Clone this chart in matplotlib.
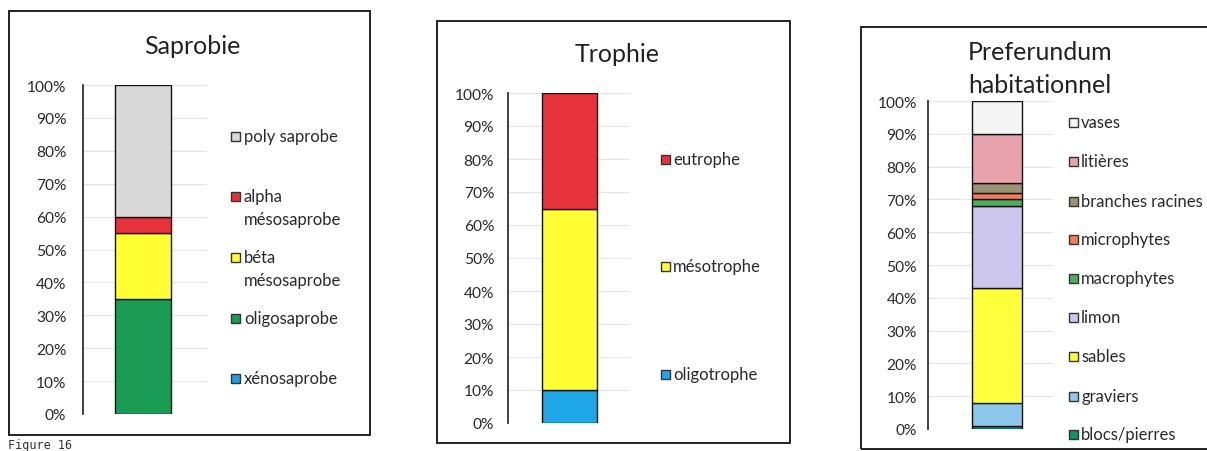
import matplotlib
matplotlib.use("Agg")
import matplotlib.pyplot as plt
from matplotlib.patches import Rectangle

plt.rcParams["font.family"] = ["Lato", "DejaVu Sans"]

W, H = 1207, 452

# stacked fractions, bottom to top
sap_labels = ["xénosaprobe", "oligosaprobe", "béta\nmésosaprobe", "alpha\nmésosaprobe", "poly saprobe"]
sap_values = [0.00, 0.35, 0.20, 0.05, 0.40]
sap_colors = ["#1e9fe0", "#1a9c55", "#ffff33", "#e8323c", "#d9d9d9"]

tro_labels = ["oligotrophe", "mésotrophe", "eutrophe"]
tro_values = [0.10, 0.55, 0.35]
tro_colors = ["#1ea6e6", "#ffff33", "#e8323c"]

hab_labels = ["blocs/pierres", "graviers", "sables", "limon", "macrophytes",
              "microphytes", "branches racines", "litières", "vases"]
hab_values = [0.01, 0.07, 0.35, 0.25, 0.02, 0.02, 0.03, 0.15, 0.10]
hab_colors = ["#16906a", "#8ec8ec", "#ffff3c", "#cdc6ec", "#4caf5e",
              "#f07c5c", "#9a9272", "#e8a2ae", "#f4f4f4"]

yticks = [i / 10 for i in range(11)]
ytick_labels = [f"{i * 10}%" for i in range(11)]


def fx(x):
    return x / W


def fy(y):
    return 1 - y / H


fig = plt.figure(figsize=(W / 100, H / 100), dpi=100)


def frame(x0, y0, x1, y1):
    fig.add_artist(Rectangle((fx(x0), fy(y1)), fx(x1) - fx(x0), fy(y0) - fy(y1),
                             transform=fig.transFigure, fill=False,
                             edgecolor="#222222", lw=1.4))


def panel(box, values, colors, bar_x, bar_w, pad):
    left, top, right, bottom = box
    ax = fig.add_axes([fx(left), fy(bottom), fx(right) - fx(left), fy(top) - fy(bottom)])
    base = 0
    for v, c in zip(values, colors):
        ax.bar(bar_x, v, bar_w, bottom=base, color=c, edgecolor="#111111", lw=1.0, zorder=3)
        base += v
    ax.set_xlim(0, 1)
    ax.set_ylim(0, 1)
    ax.set_yticks(yticks)
    ax.set_yticklabels(ytick_labels, fontsize=11.2, color="#2a2a2a")
    ax.tick_params(axis="y", length=0, pad=pad)
    ax.set_xticks([])
    ax.grid(axis="y", color="#e4e4e4", lw=0.8, zorder=0)
    for s in ["top", "right", "bottom"]:
        ax.spines[s].set_visible(False)
    ax.spines["left"].set_color("#333333")
    ax.spines["left"].set_linewidth(1.3)
    return ax


def legend(labels, colors, sq_x, txt_x, ys, line_h=23):
    # entries listed top-down, i.e. reversed stacking order
    for lab, c, y in zip(labels[::-1], colors[::-1], ys):
        s = 9
        fig.add_artist(Rectangle((fx(sq_x), fy(y + s / 2)), s / W, s / H,
                                 transform=fig.transFigure, facecolor=c,
                                 edgecolor="#333333", lw=1.0))
        for k, line in enumerate(lab.split("\n")):
            fig.text(fx(txt_x), fy(y + k * line_h), line, fontsize=12,
                     color="#2a2a2a", va="center", ha="left")


# Saprobie
frame(9, 12, 370, 436)
panel((83, 86, 207, 415), sap_values, sap_colors, 0.484, 0.444, 12)
fig.text(fx(192), fy(47), "Saprobie", fontsize=18, ha="center", va="center", color="#222222")
legend(sap_labels, sap_colors, 231, 244, [137, 197, 258, 319, 379])

# Trophie
frame(437, 22, 790, 444)
panel((508, 94, 630, 424), tro_values, tro_colors, 0.504, 0.45, 10)
fig.text(fx(617), fy(55), "Trophie", fontsize=18, ha="center", va="center", color="#222222")
legend(tro_labels, tro_colors, 661, 673, [160, 267, 375])

# Preferundum habitationnel
frame(861, 28, 1215, 450)
panel((928, 102, 1053, 430), hab_values, hab_colors, 0.552, 0.4, 8)
fig.text(fx(968), fy(69), "Preferundum\nhabitationnel", fontsize=18, ha="left",
         va="center", color="#222222", linespacing=1.5)
legend(hab_labels, hab_colors, 1069, 1081,
       [123, 162, 202, 240, 279, 318, 357, 397, 435])

# caption under the first panel
fig.text(fx(8), fy(439), "Figure 16", fontsize=8.5, family="DejaVu Sans Mono",
         color="#333333", va="top", ha="left")

fig.savefig("out.png", dpi=100, facecolor="white")
